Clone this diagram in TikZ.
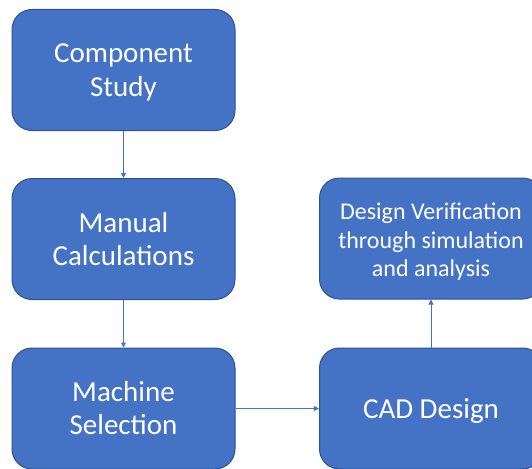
\documentclass[tikz,border=0pt]{standalone}
\usepackage{fontspec}
\setmainfont{Carlito}
\usetikzlibrary{arrows.meta}
\definecolor{boxblue}{HTML}{4472C4}
\definecolor{boxedge}{HTML}{2F528F}
\newcommand{\bstr}{\rule[-7pt]{0pt}{33pt}}
\newcommand{\sstr}{\rule[-3.7pt]{0pt}{27pt}}
\begin{document}
\begin{tikzpicture}[x=1pt,y=-1pt,
  box/.style={draw=boxedge, line width=1pt, fill=boxblue, rounded corners=20pt,
    minimum width=223pt, minimum height=121pt, text=white, align=center,
    font=\fontsize{29}{33}\selectfont, inner sep=0pt},
  smalltext/.style={font=\fontsize{24}{27}\selectfont},
  conn/.style={draw=boxblue, line width=1pt, -{Triangle[length=5pt,width=5pt]}}]
\useasboundingbox (0,0) rectangle (532,468);
\clip (0,0) rectangle (532,468);
\node[box] (cs) at (123.5,70) {\bstr Component\\\bstr Study};
\node[box] (mc) at (123.5,239) {\bstr Manual\\\bstr Calculations};
\node[box] (ms) at (123.5,408.5) {\bstr Machine\\\bstr Selection};
\node[box] (cad) at (431,408.5) {\bstr CAD Design};
\node[box,smalltext] (dv) at (431,238.5) {\sstr Design Verification\\\sstr through simulation\\\sstr and analysis};
\draw[conn] (cs) -- (mc);
\draw[conn] (mc) -- (ms);
\draw[conn] (ms) -- (cad);
\draw[conn] (cad) -- (dv);
\end{tikzpicture}
\end{document}
